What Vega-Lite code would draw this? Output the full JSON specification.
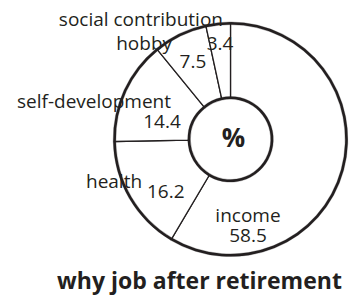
{
  "$schema": "https://vega.github.io/schema/vega-lite/v6.json",
  "width": 232,
  "height": 232,
  "autosize": "none",
  "padding": {"left": 114.5, "top": 23.3, "right": 2.5, "bottom": 41.7},
  "background": "white",
  "config": {"view": {"stroke": null}, "text": {"font": "Open Sans", "fontSize": 19, "color": "#231f20", "baseline": "alphabetic", "align": "center"}},
  "title": {"text": "why job after retirement", "orient": "bottom", "anchor": "middle", "font": "Open Sans", "fontSize": 23, "fontWeight": "bold", "color": "#231f20", "dx": -31, "offset": 13},
  "data": {"values": [
    {"reason": "income", "percent": 58.5},
    {"reason": "health", "percent": 16.2},
    {"reason": "self-development", "percent": 14.4},
    {"reason": "hobby", "percent": 7.5},
    {"reason": "social contribution", "percent": 3.4}
  ]},
  "transform": [{"stack": "percent", "groupby": [], "as": ["v0", "v1"]}],
  "layer": [
    {
      "mark": {"type": "arc", "radius": 116, "radius2": 41.5, "fill": "white", "stroke": "#231f20", "strokeWidth": 1.3},
      "encoding": {"theta": {"field": "v0", "type": "quantitative", "stack": null, "scale": {"domain": [0, 100]}}, "theta2": {"field": "v1"}}
    },
    {
      "mark": {"type": "arc", "radius": 117.3, "radius2": 114.7, "fill": "#231f20", "stroke": "#231f20", "strokeWidth": 0.3},
      "encoding": {"theta": {"field": "v0", "type": "quantitative", "stack": null}, "theta2": {"field": "v1"}}
    },
    {
      "mark": {"type": "arc", "radius": 42.8, "radius2": 40.2, "fill": "#231f20", "stroke": "#231f20", "strokeWidth": 0.3},
      "encoding": {"theta": {"field": "v0", "type": "quantitative", "stack": null}, "theta2": {"field": "v1"}}
    },
    {
      "transform": [{"aggregate": [{"op": "sum", "field": "percent", "as": "total"}]}],
      "mark": {"type": "text", "text": "%", "fontWeight": "bold", "fontSize": 26, "baseline": "middle", "dx": 3},
      "encoding": {}
    },
    {
      "transform": [{"filter": "datum.reason === 'social contribution'"}],
      "mark": {"type": "text", "radius": 116, "dx": -65, "dy": 0},
      "encoding": {"theta": {"field": "v0", "type": "quantitative", "stack": null}, "text": {"field": "reason"}}
    },
    {
      "transform": [{"filter": "datum.reason === 'social contribution'"}],
      "mark": {"type": "text", "radius": 90, "dx": 8.6, "dy": -1.3},
      "encoding": {"theta": {"field": "v0", "type": "quantitative", "stack": null}, "text": {"field": "percent", "type": "quantitative", "format": ".1f"}}
    },
    {
      "transform": [{"filter": "datum.reason === 'hobby'"}],
      "mark": {"type": "text", "radius": 116, "dx": -13, "dy": 0.6},
      "encoding": {"theta": {"field": "v0", "type": "quantitative", "stack": null}, "text": {"field": "reason"}}
    },
    {
      "transform": [{"filter": "datum.reason === 'hobby'"}],
      "mark": {"type": "text", "radius": 90, "dx": 19.4, "dy": -1.6},
      "encoding": {"theta": {"field": "v0", "type": "quantitative", "stack": null}, "text": {"field": "percent", "type": "quantitative", "format": ".1f"}}
    },
    {
      "transform": [{"filter": "datum.reason === 'self-development'"}],
      "mark": {"type": "text", "radius": 116, "dx": -20.5, "dy": -33.5},
      "encoding": {"theta": {"field": "v0", "type": "quantitative", "stack": null}, "text": {"field": "reason"}}
    },
    {
      "transform": [{"filter": "datum.reason === 'self-development'"}],
      "mark": {"type": "text", "radius": 70, "dx": 1.5, "dy": -12.6},
      "encoding": {"theta": {"field": "v0", "type": "quantitative", "stack": null}, "text": {"field": "percent", "type": "quantitative", "format": ".1f"}}
    },
    {
      "transform": [{"filter": "datum.reason === 'health'"}],
      "mark": {"type": "text", "radius": 116, "dx": -0.5, "dy": 47},
      "encoding": {"theta": {"field": "v1", "type": "quantitative", "stack": null}, "text": {"field": "reason"}}
    },
    {
      "transform": [{"filter": "datum.reason === 'health'"}],
      "mark": {"type": "text", "radius": 88, "dx": -20, "dy": -17},
      "encoding": {"theta": {"field": "v0", "type": "quantitative", "stack": null}, "text": {"field": "percent", "type": "quantitative", "format": ".1f"}}
    },
    {
      "transform": [{"filter": "datum.reason === 'income'"}],
      "mark": {"type": "text", "radius": 90, "dx": 63.3, "dy": 5.2},
      "encoding": {"theta": {"field": "v1", "type": "quantitative", "stack": null}, "text": {"field": "reason"}}
    },
    {
      "transform": [{"filter": "datum.reason === 'income'"}],
      "mark": {"type": "text", "radius": 90, "dx": 63.3, "dy": 25.2},
      "encoding": {"theta": {"field": "v1", "type": "quantitative", "stack": null}, "text": {"field": "percent", "type": "quantitative", "format": ".1f"}}
    }
  ]
}
